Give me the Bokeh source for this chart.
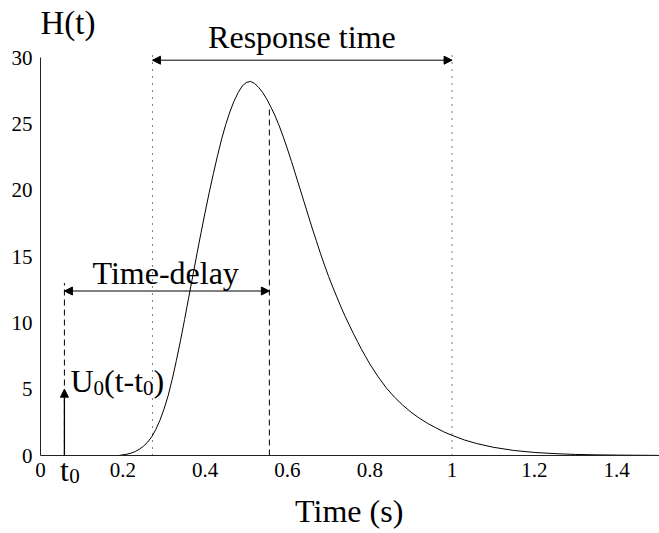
from bokeh.plotting import figure
from bokeh.models import (Range1d, Label, Arrow, NormalHead, FixedTicker,
                          CustomJSTickFormatter, ColumnDataSource)
from bokeh.embed import file_html
from bokeh.resources import INLINE

# ---------------- data ----------------
time_s = [0.15, 0.19, 0.20, 0.21, 0.22, 0.23, 0.24, 0.25, 0.26, 0.27, 0.28,
          0.29, 0.30, 0.31, 0.32, 0.33, 0.34, 0.35, 0.36, 0.37, 0.38, 0.39,
          0.40, 0.41, 0.42, 0.43, 0.44, 0.45, 0.46, 0.47, 0.48, 0.49, 0.50,
          0.51, 0.52, 0.53, 0.54, 0.55, 0.56, 0.57, 0.58, 0.59, 0.60, 0.61,
          0.62, 0.63, 0.64, 0.65, 0.66, 0.67, 0.68, 0.69, 0.70, 0.71, 0.72,
          0.73, 0.74, 0.75, 0.76, 0.77, 0.78, 0.79, 0.80, 0.82, 0.84, 0.86,
          0.88, 0.90, 0.92, 0.94, 0.96, 0.98, 1.00, 1.03, 1.06, 1.10, 1.15,
          1.20, 1.25, 1.30, 1.35, 1.40, 1.50]
h_values = [0.0, 0.0, 0.05, 0.1, 0.18, 0.3, 0.47, 0.7, 1.0, 1.4, 1.95,
            2.65, 3.5, 4.5, 5.75, 7.15, 8.65, 10.25, 11.9, 13.55, 15.2, 16.8,
            18.35, 19.85, 21.25, 22.6, 23.85, 24.95, 25.9, 26.7, 27.35, 27.85, 28.12,
            28.2, 28.05, 27.75, 27.35, 26.85, 26.25, 25.6, 24.85, 24.0, 23.1, 22.15,
            21.15, 20.15, 19.15, 18.15, 17.15, 16.2, 15.25, 14.35, 13.5, 12.7, 11.95,
            11.2, 10.5, 9.85, 9.2, 8.6, 8.0, 7.45, 6.9, 5.95, 5.1, 4.4,
            3.8, 3.27, 2.82, 2.43, 2.1, 1.78, 1.52, 1.17, 0.9, 0.62, 0.38,
            0.23, 0.14, 0.08, 0.05, 0.03, 0.01]

x_tick_values = [0, 0.2, 0.4, 0.6, 0.8, 1.0, 1.2, 1.4]
x_tick_labels = ["0", "0.2", "0.4", "0.6", "0.8", "1", "1.2", "1.4"]
y_tick_values = [0, 5, 10, 15, 20, 25, 30]

t0 = 0.058            # input step time
delay_end = 0.556     # end of time-delay
resp_start = 0.272    # start of response time
resp_end = 1.0        # end of response time
step_height = 5.0
delay_arrow_y = 12.4
delay_guide_top = 13.0
delay_end_top = 26.2
resp_arrow_y = 29.8
resp_guide_top = 30.6

FONT = "Liberation Serif"
F, S = 32, 21   # main text size / subscript size (px)
LIFT = 11       # px correction so the text baseline lands where intended

# ---------------- figure ----------------
# axes are drawn at x=0 / y=0 inside a frame that fills the canvas
p = figure(width=659, height=533, output_backend="svg", toolbar_location=None,
           x_range=Range1d(-0.0973, 1.504), y_range=Range1d(-5.88, 34.3),
           min_border_left=0, min_border_right=0, min_border_top=0,
           min_border_bottom=0)
p.outline_line_color = None
p.grid.visible = False
p.background_fill_color = "white"
p.border_fill_color = "white"

for ax in (p.xaxis, p.yaxis):
    ax.major_tick_line_color = None
    ax.minor_tick_line_color = None
    ax.major_tick_out = 0
    ax.major_tick_in = 0
    ax.minor_tick_out = 0
    ax.minor_tick_in = 0
    ax.axis_line_color = "#222222"
    ax.axis_line_width = 1
    ax.major_label_text_font = FONT
    ax.major_label_text_font_size = "21px"
    ax.major_label_text_color = "black"
    ax.fixed_location = 0

p.xaxis.ticker = FixedTicker(ticks=x_tick_values)
p.xaxis.formatter = CustomJSTickFormatter(
    args=dict(labels=x_tick_labels, values=x_tick_values),
    code="const i = values.findIndex(v => Math.abs(v - tick) < 1e-9);"
         "return i >= 0 ? labels[i] : String(tick);")
p.xaxis.bounds = (0, 1.504)
p.xaxis.major_label_standoff = 7

p.yaxis.ticker = FixedTicker(ticks=y_tick_values)
p.yaxis.bounds = (0, 30)
p.yaxis.major_label_standoff = 8

# ---------------- curve ----------------
src = ColumnDataSource(dict(t=time_s, h=h_values))
p.line("t", "h", source=src, line_color="black", line_width=1)

# ---------------- guide lines ----------------
p.segment(x0=[resp_start, resp_end], y0=[0, 0], x1=[resp_start, resp_end],
          y1=[resp_guide_top, resp_guide_top], line_color="black",
          line_width=1, line_dash="1 6")
p.segment(x0=[t0, delay_end], y0=[0, 0], x1=[t0, delay_end],
          y1=[delay_guide_top, delay_end_top], line_color="black",
          line_width=1, line_dash="6 4")

def head():
    return NormalHead(size=8, fill_color="black", line_color="black")

p.add_layout(Arrow(x_start=t0, y_start=delay_arrow_y, x_end=delay_end,
                   y_end=delay_arrow_y, line_width=1, line_color="black",
                   start=head(), end=head()))
p.add_layout(Arrow(x_start=resp_start, y_start=resp_arrow_y, x_end=resp_end,
                   y_end=resp_arrow_y, line_width=1, line_color="black",
                   start=head(), end=head()))
p.add_layout(Arrow(x_start=t0, y_start=0, x_end=t0, y_end=step_height,
                   line_width=1.3, line_color="black", end=head()))

# ---------------- texts ----------------
def lab(text, x, y, size=F, align="left", xo=0, yo=0):
    p.add_layout(Label(x=x, y=y, text=text, text_font=FONT,
                       text_font_size=f"{size}px", text_align=align,
                       text_baseline="alphabetic", text_color="black",
                       x_offset=xo, y_offset=yo + LIFT))

lab("H(t)", 0.0, 31.8, size=33)
lab("Response time", 0.635, 30.75, align="center")
lab("Time-delay", 0.304, 12.96, align="center")
lab("Time (s)", 0.75, -5.05, align="center")

# U0(t-t0) built from pieces (Times metrics)
u_y = 4.75
xo = 6
lab("U", t0, u_y, xo=xo)
xo += 0.722 * F
lab("0", t0, u_y, size=S, xo=xo, yo=-7)
xo += 0.5 * S
lab("(t-t", t0, u_y, xo=xo)
xo += (0.333 + 0.278 + 0.333 + 0.278) * F
lab("0", t0, u_y, size=S, xo=xo, yo=-7)
xo += 0.5 * S
lab(")", t0, u_y, xo=xo)

# t0 under the axis
lab("t", t0, -1.94, align="center")
lab("0", t0, -1.94, size=S, xo=0.278 * F / 2 + 0.5, yo=-6)

open("out.html", "w").write(file_html(p, INLINE))
